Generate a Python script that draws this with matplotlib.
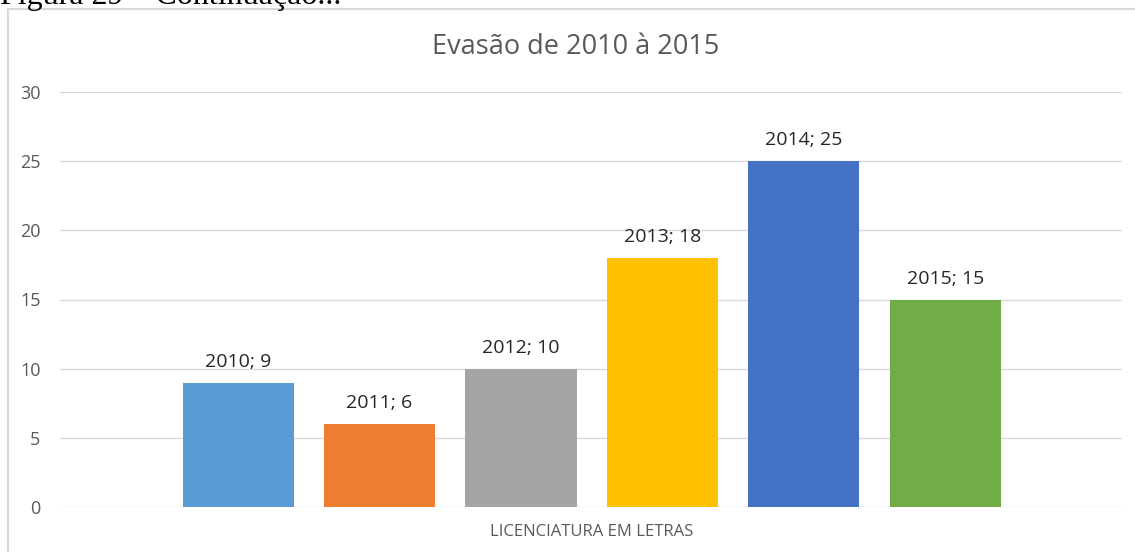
import matplotlib
matplotlib.use('Agg')
import matplotlib.pyplot as plt
from matplotlib.patches import Rectangle

# dados do grafico
curso = 'LICENCIATURA EM LETRAS'
anos = ['2010', '2011', '2012', '2013', '2014', '2015']
evasao = [9, 6, 10, 18, 25, 15]
cores = ['#5B9BD5', '#ED7D31', '#A5A5A5', '#FFC000', '#4472C4', '#70AD47']

plt.rcParams['font.family'] = ['Open Sans', 'DejaVu Sans']

fig = plt.figure(figsize=(11.35, 5.52), dpi=100)
ax = fig.add_axes([60 / 1135, 45 / 552, 1062 / 1135, 415 / 552])

pos = list(range(len(anos)))
ax.bar(pos, evasao, width=0.785, color=cores, zorder=3)

# rotulos "ano; valor" acima das barras
for p, a, v in zip(pos, anos, evasao):
    ax.annotate(f'{a}; {v}', (p, v), xytext=(0, 11.5), textcoords='offset points',
                ha='center', va='baseline', fontsize=14, color='#262626')

ax.set_ylim(0, 30)
ax.set_yticks(range(0, 31, 5))
ax.set_xlim(-1.26, 6.25)
ax.set_xticks([2.5], [curso])
ax.tick_params(axis='x', length=0, pad=12, labelsize=12, labelcolor='#595959')
ax.tick_params(axis='y', length=0, pad=14, labelsize=13, labelcolor='#595959')
ax.grid(axis='y', color='#D9D9D9', lw=1, zorder=0)
for s in ax.spines.values():
    s.set_visible(False)

fig.text(576 / 1135, 1 - 47 / 552, 'Evasão de 2010 à 2015', ha='center', va='center',
         fontsize=19.5, color='#595959')

# moldura do grafico e legenda da figura (cortada no topo, como no original)
fig.add_artist(Rectangle((8 / 1135, -0.05), 1.1, 1 - 9 / 552 + 0.05, transform=fig.transFigure,
                         fill=False, ec='#D9D9D9', lw=1.5))
fig.text(0, 1 - 4 / 552, 'Figura 29 – Continuação...', family='Liberation Serif',
         fontsize=23, ha='left', va='baseline', color='black')

fig.savefig('out.png', dpi=100)
